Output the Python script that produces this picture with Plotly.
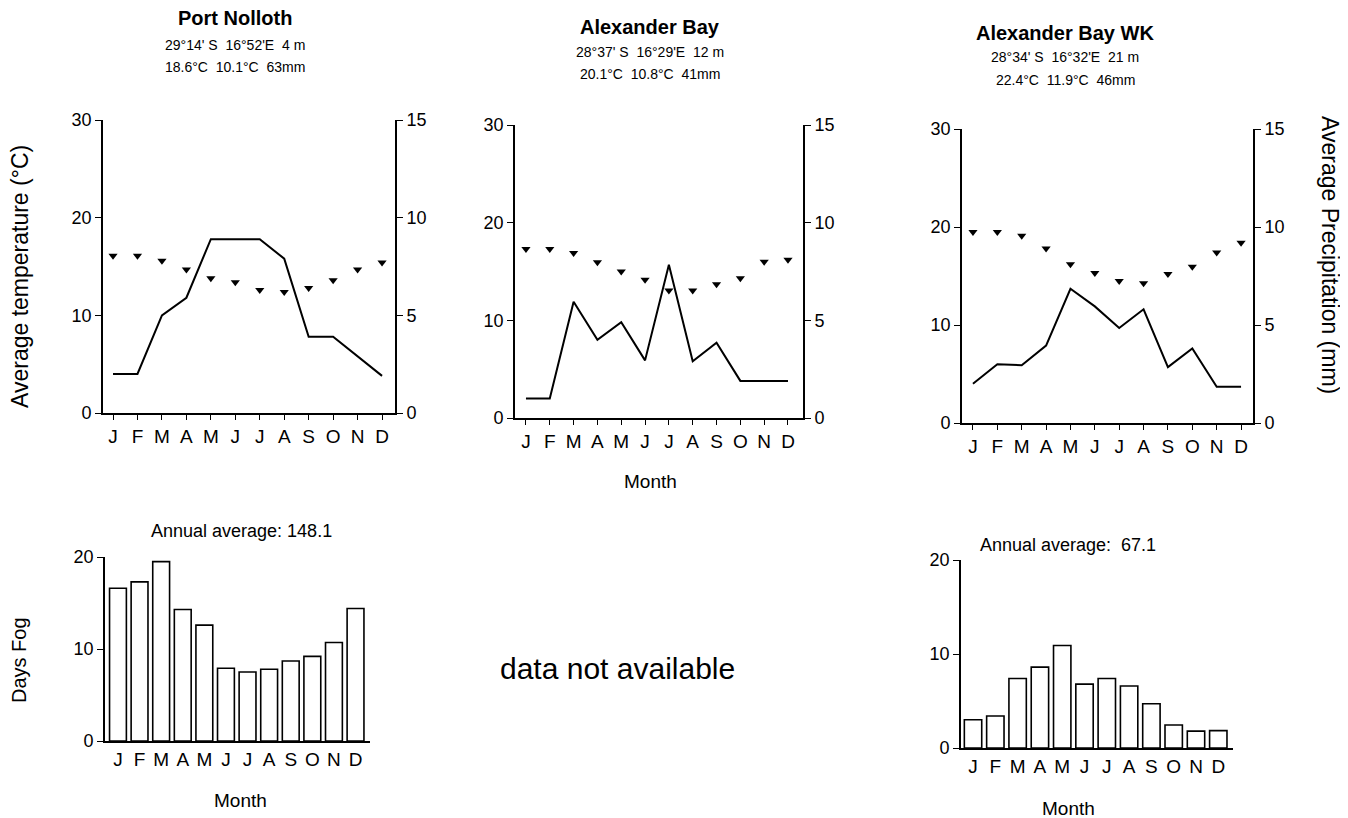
import plotly.graph_objects as go

W, H = 1348, 818
OFF = 8  # page body margin offset

months = ["J", "F", "M", "A", "M", "J", "J", "A", "S", "O", "N", "D"]
month_idx = list(range(12))

# Port Nolloth
pn_temp = [16.1, 16.1, 15.6, 14.7, 13.8, 13.4, 12.6, 12.4, 12.8, 13.6, 14.7, 15.4]
pn_precip = [2.0, 2.0, 5.0, 5.9, 8.9, 8.9, 8.9, 7.9, 3.9, 3.9, 2.9, 1.9]
pn_fog = [16.6, 17.3, 19.5, 14.3, 12.6, 7.9, 7.5, 7.8, 8.7, 9.2, 10.7, 14.4]

# Alexander Bay
ab_temp = [17.3, 17.3, 16.9, 15.95, 15.0, 14.15, 13.05, 13.05, 13.7, 14.3, 16.0, 16.2]
ab_precip = [1.0, 1.0, 5.95, 4.0, 4.9, 2.95, 7.85, 2.9, 3.85, 1.9, 1.9, 1.9]

# Alexander Bay WK
wk_temp = [19.5, 19.5, 19.1, 17.8, 16.2, 15.3, 14.5, 14.25, 15.2, 15.95, 17.4, 18.4]
wk_precip = [2.0, 3.0, 2.95, 3.95, 6.85, 5.95, 4.85, 5.8, 2.85, 3.8, 1.85, 1.85]
wk_fog = [3.0, 3.4, 7.4, 8.6, 10.9, 6.8, 7.4, 6.6, 4.7, 2.45, 1.8, 1.85]

titles = ["Port Nolloth", "Alexander Bay", "Alexander Bay WK"]
coords = ["29°14' S  16°52'E  4 m", "28°37' S  16°29'E  12 m", "28°34' S  16°32'E  21 m"]
climate = ["18.6°C  10.1°C  63mm", "20.1°C  10.8°C  41mm", "22.4°C  11.9°C  46mm"]
fog_titles = ["Annual average: 148.1", "Annual average:  67.1"]

temp_ticks = [0, 10, 20, 30]
precip_ticks = [0, 5, 10, 15]
fog_ticks = [0, 10, 20]

FONT = "Liberation Sans, Arial, sans-serif"
NARROW = "Liberation Sans Narrow, Arial Narrow, Liberation Sans, sans-serif"


def px(x):
    return (x - OFF) / W


def py(y):
    return 1 - (y - OFF) / H


fig = go.Figure()

top = [
    ("x", "y", "y2", (103, 395), (413, 120), (-0.41, 11.53), pn_temp, pn_precip),
    ("x2", "y3", "y4", (515, 803), (418, 125), (-0.46, 11.63), ab_temp, ab_precip),
    ("x3", "y5", "y6", (962, 1253), (423, 129), (-0.45, 11.49), wk_temp, wk_precip),
]

layout = dict(
    width=W, height=H, margin=dict(l=0, r=0, t=0, b=0, autoexpand=False),
    paper_bgcolor="white", plot_bgcolor="white", showlegend=False,
    font=dict(family=FONT, color="black", size=16),
)

axis_common = dict(showgrid=False, zeroline=False, showline=True, linecolor="black",
                   linewidth=1.6, ticks="outside", tickcolor="black", ticklen=6,
                   tickwidth=1.3, automargin=False,
                   tickfont=dict(size=18, family=FONT, color="black"))


def key(a):
    return a.replace("x", "xaxis").replace("y", "yaxis")


for xa, ya, ya2, (x0, x1), (y0, y1), xr, temp, precip in top:
    fig.add_trace(go.Scatter(x=month_idx, y=precip, mode="lines", xaxis=xa, yaxis=ya2,
                             line=dict(color="black", width=2)))
    fig.add_trace(go.Scatter(x=month_idx, y=temp, mode="markers", xaxis=xa, yaxis=ya,
                             marker=dict(symbol="triangle-down", size=8, color="black")))
    layout[key(xa)] = dict(axis_common, domain=[px(x0), px(x1)], range=list(xr),
                           tickvals=month_idx, ticktext=months, anchor=ya, ticklen=5,
                           tickfont=dict(size=19, family=FONT, color="black"))
    layout[key(ya)] = dict(axis_common, domain=[py(y0), py(y1)], range=[0, 30],
                           tickvals=temp_ticks, anchor=xa, side="left")
    layout[key(ya2)] = dict(axis_common, range=[0, 15], tickvals=precip_ticks,
                            overlaying=ya, anchor=xa, side="right")

bottom = [
    ("x4", "y7", (105, 370), (741, 557), (-0.6, 11.67), pn_fog),
    ("x5", "y8", (961, 1233), (748, 560), (-0.54, 11.66), wk_fog),
]
for xa, ya, (x0, x1), (y0, y1), xr, fog in bottom:
    fig.add_trace(go.Bar(x=month_idx, y=fog, xaxis=xa, yaxis=ya, width=0.78,
                         marker=dict(color="white", line=dict(color="black", width=1.6))))
    layout[key(xa)] = dict(axis_common, domain=[px(x0), px(x1)], range=list(xr),
                           tickvals=month_idx, ticktext=months, anchor=ya, ticks="",
                           tickfont=dict(size=19, family=FONT, color="black"))
    layout[key(ya)] = dict(axis_common, domain=[py(y0), py(y1)], range=[0, 20],
                           tickvals=fog_ticks, anchor=xa)

ann = []
title_pos = [(235, 18, 45, 67), (650, 27, 52, 74), (1065, 33, 57, 80)]
for (cx, ty, cy1, cy2), t, c, cl in zip(title_pos, titles, coords, climate):
    ann.append(dict(x=px(cx), y=py(ty), text="<b>" + t + "</b>", font=dict(size=20, family=FONT)))
    ann.append(dict(x=px(cx), y=py(cy1), text=c, font=dict(size=14, family=NARROW)))
    ann.append(dict(x=px(cx), y=py(cy2), text=cl, font=dict(size=14, family=NARROW)))

texts = [
    (20, 277, "Average temperature (°C)", -90, 23),
    (1330, 255, "Average Precipitation (mm)", 90, 23),
    (650, 481, "Month", 0, 19),
    (241, 531, fog_titles[0], 0, 18),
    (1068, 545, fog_titles[1], 0, 18),
    (19, 660, "Days Fog", -90, 20),
    (617, 668, "data not available", 0, 30),
    (240, 800, "Month", 0, 19),
    (1068, 808, "Month", 0, 19),
]
for x, y, t, ang, s in texts:
    ann.append(dict(x=px(x), y=py(y), text=t, textangle=ang, font=dict(size=s, family=FONT)))

for a in ann:
    a.update(showarrow=False, xref="paper", yref="paper", xanchor="center", yanchor="middle")

layout["annotations"] = ann
fig.update_layout(**layout)
fig.write_html("out.html")
